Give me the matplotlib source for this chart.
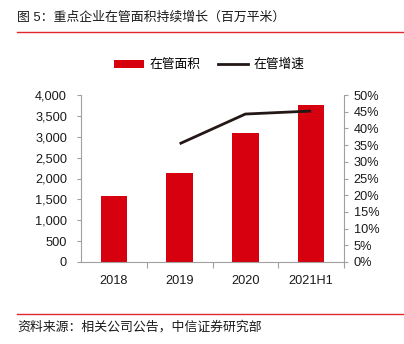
import matplotlib
matplotlib.use("Agg")
import matplotlib.pyplot as plt
from matplotlib.ticker import FuncFormatter, FixedLocator
from matplotlib.lines import Line2D
from matplotlib.patches import Patch
import numpy as np

plt.rcParams['font.family'] = ['Liberation Sans', 'Noto Sans CJK SC']

years = ["2018", "2019", "2020", "2021H1"]
area = [1580, 2140, 3090, 3750]          # 在管面积, 百万平米
growth = [np.nan, 35.4, 44.3, 45.2]      # 在管增速, %

title = "图 5：重点企业在管面积持续增长（百万平米）"
source = "资料来源：相关公司公告，中信证券研究部"

bar_red = "#D7000F"
line_col = "#231815"
axis_col = "#A0A0A0"
text_col = "#1a1a1a"

W, H = 404, 344
fig = plt.figure(figsize=(W / 100, H / 100), dpi=100)

ax = fig.add_axes([81 / W, 1 - 262 / H, (344 - 81) / W, (262 - 95) / H])
ax2 = ax.twinx()

x = np.arange(len(years))
ax.bar(x, area, width=0.4, color=bar_red, zorder=2)
ax2.plot(x, growth, color=line_col, lw=2, solid_capstyle="butt", zorder=3)

ax.set_xlim(-0.5, len(years) - 0.5)
ax.set_ylim(0, 4000)
ax.set_yticks(np.arange(0, 4001, 500))
ax.yaxis.set_major_formatter(FuncFormatter(lambda v, p: f"{int(v):,}"))
ax2.set_ylim(0, 50)
ax2.set_yticks(np.arange(0, 51, 5))
ax2.yaxis.set_major_formatter(FuncFormatter(lambda v, p: f"{int(v)}%"))

ax.set_xticks(x)
ax.set_xticklabels(years)
ax.xaxis.set_minor_locator(FixedLocator([0.5, 1.5, 2.5, 3.5]))

for a in (ax, ax2):
    a.spines["top"].set_visible(False)
    for s in ("left", "right", "bottom"):
        a.spines[s].set_color(axis_col)
        a.spines[s].set_linewidth(0.8)
    a.set_facecolor("none")

ax.spines["right"].set_visible(False)
ax2.spines["left"].set_visible(False)
ax2.spines["bottom"].set_visible(False)

ax.tick_params(axis="y", length=3, width=0.8, color=axis_col, pad=7,
               labelsize=9.2, labelcolor=text_col)
ax2.tick_params(axis="y", length=3, width=0.8, color=axis_col, pad=4,
                labelsize=9.2, labelcolor=text_col)
ax.tick_params(axis="x", which="major", length=0, pad=9,
               labelsize=9.2, labelcolor=text_col)
ax.tick_params(axis="x", which="minor", length=4, width=0.8, color=axis_col)

handles = [Patch(facecolor=bar_red, edgecolor="none"),
           Line2D([0], [0], color=line_col, lw=2)]
fig.legend(handles, ["在管面积", "在管增速"], loc="center",
           bbox_to_anchor=(209.5 / W, 1 - 65 / H), ncol=2, frameon=False,
           fontsize=9.2, handlelength=2.35, handleheight=0.55,
           handletextpad=0.4, columnspacing=1.4)

fig.text(17 / W, 1 - 17 / H, title, fontsize=9.3, color=text_col,
         va="center", ha="left")
fig.add_artist(Line2D([17 / W, 403 / W], [1 - 32 / H, 1 - 32 / H],
                      color="#E0282E", lw=1.0))
fig.add_artist(Line2D([17 / W, 403 / W], [1 - 314 / H, 1 - 314 / H],
                      color="#E0282E", lw=1.0))
fig.text(17 / W, 1 - 327 / H, source, fontsize=9.3, color=text_col,
         va="center", ha="left")

fig.savefig("out.png", dpi=100)
